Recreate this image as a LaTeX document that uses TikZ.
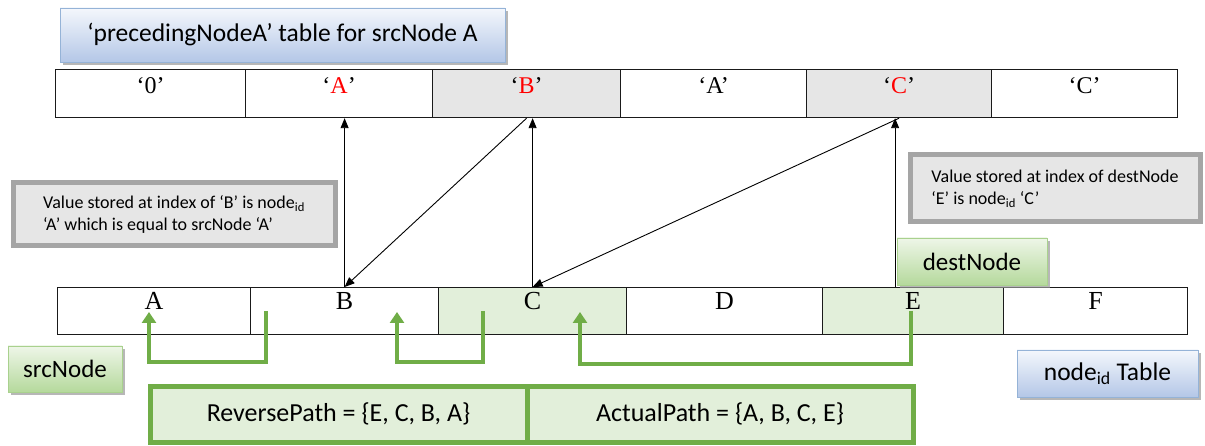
\documentclass[tikz,border=0pt]{standalone}
\usepackage{fontspec}
\setmainfont{Liberation Serif}
\newfontfamily\calfont{Carlito}
\usetikzlibrary{arrows.meta,shadows,calc}

\definecolor{gridline}{HTML}{1A1A1A}
\definecolor{grayfill}{HTML}{E6E6E6}
\definecolor{grayedge}{HTML}{A5A5A5}
\definecolor{greenfill}{HTML}{E2EFDA}
\definecolor{greenline}{HTML}{70AD47}
\definecolor{blueedge}{HTML}{95B3D7}
\definecolor{bluetop}{HTML}{F4F7FC}
\definecolor{bluebot}{HTML}{B4C7E7}
\definecolor{greenedge}{HTML}{A9D18E}
\definecolor{greentop}{HTML}{EEF6E8}
\definecolor{greenbot}{HTML}{B5D99C}
\definecolor{idred}{HTML}{FF0000}

\begin{document}
\begin{tikzpicture}[x=1pt,y=-1pt,
  cell/.style={draw=gridline, line width=1.2pt, minimum height=48pt, inner sep=0pt, anchor=north west},
  val/.style={font=\fontsize{24}{26}\selectfont, inner sep=0pt, anchor=base},
  key/.style={font=\fontsize{26}{28}\selectfont, inner sep=0pt, anchor=base},
  ptr/.style={-{Triangle[length=10pt,width=8pt]}, line width=0.9pt, draw=black},
  walk/.style={-{Triangle[length=11pt,width=14pt]}, line width=4.5pt, draw=greenline},
  note/.style={draw=grayedge, line width=5pt, fill=grayfill, inner sep=0pt,
    anchor=north west, font=\calfont\fontsize{18}{22}\selectfont, align=left},
  tagblue/.style={draw=blueedge, line width=0.8pt, top color=bluetop, bottom color=bluebot,
    drop shadow={shadow xshift=3pt, shadow yshift=-3pt, fill=black!40, opacity=0.7},
    inner sep=0pt, font=\calfont\fontsize{25.5}{28}\selectfont},
  taggreen/.style={draw=greenedge, line width=0.8pt, top color=greentop, bottom color=greenbot,
    drop shadow={shadow xshift=3pt, shadow yshift=-3pt, fill=black!40, opacity=0.7},
    inner sep=0pt, font=\calfont\fontsize{25}{28}\selectfont},
  pathbox/.style={draw=greenline, line width=5pt, fill=greenfill, inner sep=0pt,
    font=\calfont\fontsize{26}{28}\selectfont}
]
\useasboundingbox (0,0) rectangle (1205,446);

% preceding-node table (top row)
\node[cell, minimum width=190pt] (tA) at (55,69) {};
\node[cell, minimum width=187pt] (tB) at (245,69) {};
\node[cell, minimum width=188pt, fill=grayfill] (tC) at (432,69) {};
\node[cell, minimum width=186pt] (tD) at (620,69) {};
\node[cell, minimum width=185pt, fill=grayfill] (tE) at (806,69) {};
\node[cell, minimum width=186pt] (tF) at (991,69) {};
\node[val] (vA) at ($(tA.north)+(0,25)$) {‘0’};
\node[val] (vB) at ($(tB.north)+(0,25)$) {‘\textcolor{idred}{A}’};
\node[val] (vC) at ($(tC.north)+(0,25)$) {‘\textcolor{idred}{B}’};
\node[val] (vD) at ($(tD.north)+(0,25)$) {‘A’};
\node[val] (vE) at ($(tE.north)+(0,25)$) {‘\textcolor{idred}{C}’};
\node[val] (vF) at ($(tF.north)+(0,25)$) {‘C’};

% node id table (bottom row)
\node[cell, minimum width=193pt, minimum height=47pt] (nA) at (57,287) {};
\node[cell, minimum width=188pt, minimum height=47pt] (nB) at (250,287) {};
\node[cell, minimum width=188pt, minimum height=47pt, fill=greenfill] (nC) at (438,287) {};
\node[cell, minimum width=196pt, minimum height=47pt] (nD) at (626,287) {};
\node[cell, minimum width=181pt, minimum height=47pt, fill=greenfill] (nE) at (822,287) {};
\node[cell, minimum width=184pt, minimum height=47pt] (nF) at (1003,287) {};
\node[key] (lA) at ($(nA.north)+(0,23)$) {A};
\node[key] (lB) at ($(nB.north)+(0,23)$) {B};
\node[key] (lC) at ($(nC.north)+(0,23)$) {C};
\node[key] (lD) at ($(nD.north)+(0,23)$) {D};
\node[key] (lE) at ($(nE.north)+(0,23)$) {E};
\node[key] (lF) at ($(nF.north)+(0,23)$) {F};

% lookups in the preceding-node table
\draw[ptr] (nB.north) -- (nB.north |- tB.south);
\draw[ptr] (tC.south) -- (nB.north);
\draw[ptr] (nC.north) -- (nC.north |- tC.south);
\draw[ptr] (tE.south) -- (nC.north);
\draw[ptr] ($(tE.south |- nE.north)+(-4,0)$) -- ($(tE.south)+(-4,0)$);

% labels
\node[tagblue, minimum width=445pt, minimum height=54pt] (title) at (282.5,35) {‘precedingNodeA’ table for srcNode A};
\node[note, minimum width=322pt, minimum height=63pt] (noteB) at (10.5,180.5)
  {Value stored at index of ‘B’ is node\textsubscript{id}\\‘A’ which is equal to srcNode ‘A’};
\node[note, minimum width=290pt, minimum height=67pt] (noteE) at (907.5,152.5)
  {Value stored at index of destNode\\‘E’ is node\textsubscript{id} ‘C’};
\node[taggreen, minimum width=150pt, minimum height=47pt] (dest) at (972,261.5) {destNode};
\node[taggreen, minimum width=114pt, minimum height=46pt] (src) at (65,369) {srcNode};
\node[tagblue, minimum width=181pt, minimum height=47pt] (idtab) at (1107.5,373.5) {node\textsubscript{id} Table};

% walking back from destNode to srcNode
\coordinate (w1s) at (266,311);
\coordinate (w1e) at (149,312);
\coordinate (w2s) at (483,311);
\coordinate (w2e) at (397,312);
\coordinate (w3s) at (911,311);
\coordinate (w3e) at (580,312);
\draw[walk] (w1s) -- ++(0,51) -| (w1e);
\draw[walk] (w2s) -- ++(0,51) -| (w2e);
\draw[walk] (w3s) -- ++(0,53) -| (w3e);

% resulting paths
\node[pathbox, minimum width=377pt, minimum height=56pt] (rev) at (338.5,414) {ReversePath = \{E, C, B, A\}};
\node[pathbox, minimum width=386pt, minimum height=56pt] (act) at (720,414) {ActualPath = \{A, B, C, E\}};
\end{tikzpicture}
\end{document}
